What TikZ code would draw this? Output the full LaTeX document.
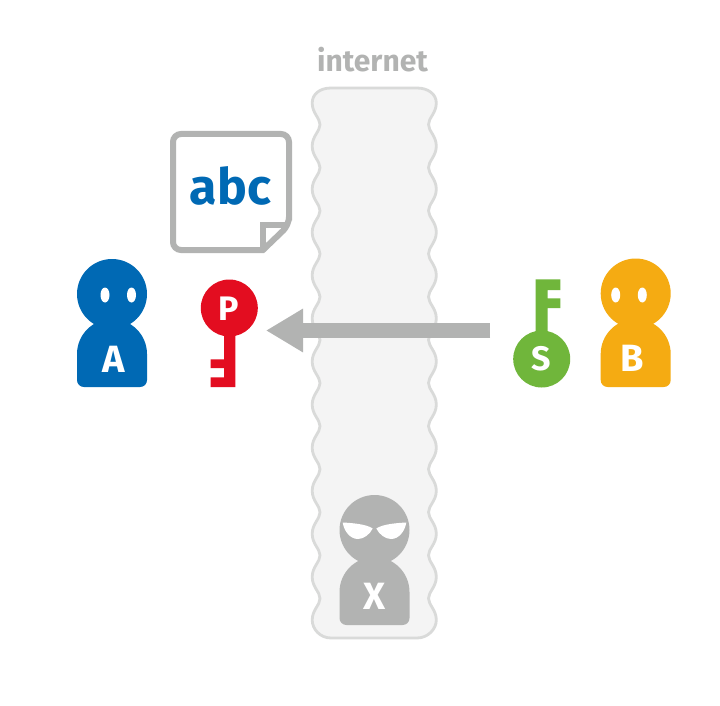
\documentclass[tikz,border=0pt]{standalone}
\usepackage{fontspec}
\setmainfont{Fira Sans}
\usetikzlibrary{arrows.meta}
\definecolor{ablue}{HTML}{0069B4}
\definecolor{bora}{HTML}{F5AB12}
\definecolor{pred}{HTML}{E30D20}
\definecolor{sgreen}{HTML}{70B63B}
\definecolor{xgray}{HTML}{B2B3B2}
\definecolor{bandfill}{HTML}{F4F4F4}
\definecolor{bandline}{HTML}{D9DAD9}
\tikzset{
  letter/.style={font=\fontsize{38}{38}\selectfont\bfseries,text=white,inner sep=0pt},
  keyletter/.style={font=\fontsize{34}{34}\selectfont\bfseries,text=white,inner sep=0pt},
  sendarrow/.style={draw=xgray,line width=15pt,-{Triangle[width=41pt,length=37pt]}},
  paper/.style={draw=xgray,line width=6pt,line join=miter}
}
\newcommand{\personshape}[4]{% cx, head y, body y, colour
  \fill[#4] (#1,#2) circle[radius=35pt];
  \fill[#4] (#1-35,#3) .. controls (#1-35,#3-19.3) and (#1-19.3,#3-35) .. (#1,#3-35)
     .. controls (#1+19.3,#3-35) and (#1+35,#3-19.3) .. (#1+35,#3)
     -- (#1+35,#3+26) .. controls (#1+35,#3+30) and (#1+32,#3+33) .. (#1+28,#3+33)
     -- (#1-28,#3+33) .. controls (#1-32,#3+33) and (#1-35,#3+30) .. (#1-35,#3+26) -- cycle;
}
\begin{document}
\begin{tikzpicture}[x=1pt,y=-1pt]
\useasboundingbox (0,0) rectangle (720,706);
\fill[white] (0,0) rectangle (720,706);

% internet band
\draw[bandline,fill=bandfill,line width=2.8pt]
  (312.2,103) .. controls (312.2,94) and (320,88) .. (331,88) -- (417,88)
  .. controls (428,88) and (436.3,94) .. (436.3,103)
  \foreach \k [evaluate=\k as \y using 103+43.08*\k] in {0,...,11} {
    .. controls (436.3,\y+10) and (428.5,\y+15) .. (428.5,\y+21.5)
    .. controls (428.5,\y+28) and (436.3,\y+33) .. (436.3,\y+43.08)
  }
  .. controls (436.3,629) and (428,638) .. (417,638) -- (331,638)
  .. controls (320,638) and (312.2,629) .. (312.2,620)
  \foreach \k [evaluate=\k as \y using 620-43.08*\k] in {0,...,11} {
    .. controls (312.2,\y-10) and (320,\y-15) .. (320,\y-21.5)
    .. controls (320,\y-28) and (312.2,\y-33) .. (312.2,\y-43.08)
  }
  -- cycle;
\node[font=\fontsize{30}{30}\selectfont\bfseries,text=xgray,inner sep=0pt] (inet) at (372.5,60) {internet};

% document
\draw[paper,fill=white,rounded corners=8pt] (173,134) -- (289,134) -- (289,225) -- (289,225) [sharp corners] -- (263,250) [rounded corners=8pt] -- (173,250) -- cycle;
\draw[paper] (263,250) -- (263,225) -- (289,225);
\node[font=\fontsize{50}{50}\selectfont\bfseries,text=ablue,inner sep=0pt] (abc) at (230.5,186) {abc};

% person A
\personshape{112}{294}{354}{ablue}
\fill[white] (105,295) ellipse[x radius=4.5pt,y radius=7.5pt];
\fill[white] (131.5,295) ellipse[x radius=4.5pt,y radius=7.5pt];
\node[letter] (A) at (114,359) {A};

% person B
\personshape{635.7}{293.5}{354}{bora}
\fill[white] (615.7,295) ellipse[x radius=4.5pt,y radius=7.5pt];
\fill[white] (642.3,295) ellipse[x radius=4.5pt,y radius=7.5pt];
\node[letter] (B) at (632.5,358) {B};

% person X
\personshape{374.5}{530}{592}{xgray}
\fill[white] (342.7,522.5) .. controls (352,523) and (366,524) .. (372.7,528.5)
  .. controls (370,534) and (364,539) .. (358,539) .. controls (350,539) and (344,531) .. cycle;
\fill[white] (406.3,522.5) .. controls (397,523) and (383,524) .. (376.3,528.5)
  .. controls (379,534) and (385,539) .. (391,539) .. controls (399,539) and (405,531) .. cycle;
\node[letter] (X) at (374.5,596) {X};

% key P
\fill[pred] (229.3,308) circle[radius=28.5pt];
\fill[pred] (224,320) -- (235.3,320) -- (235.3,387) -- (210.7,387) -- (210.7,377.3) -- (224,377.3)
  -- (224,368) -- (210.7,368) -- (210.7,359.3) -- (224,359.3) -- cycle;
\node[keyletter] (P) at (228.5,309) {P};

% key S
\fill[sgreen] (541.7,359) circle[radius=28.5pt];
\fill[sgreen] (535.7,345) -- (547.7,345) -- (547.7,308) -- (560.3,308) -- (560.3,298.3) -- (547.7,298.3)
  -- (547.7,290) -- (560.3,290) -- (560.3,279.3) -- (535.7,279.3) -- cycle;
\node[keyletter] (S) at (541.7,359) {S};

% arrow
\coordinate (sendstart) at (490,330.5);
\coordinate (sendend) at (266,330.5);
\draw[sendarrow] (sendstart) -- (sendend);
\end{tikzpicture}
\end{document}
